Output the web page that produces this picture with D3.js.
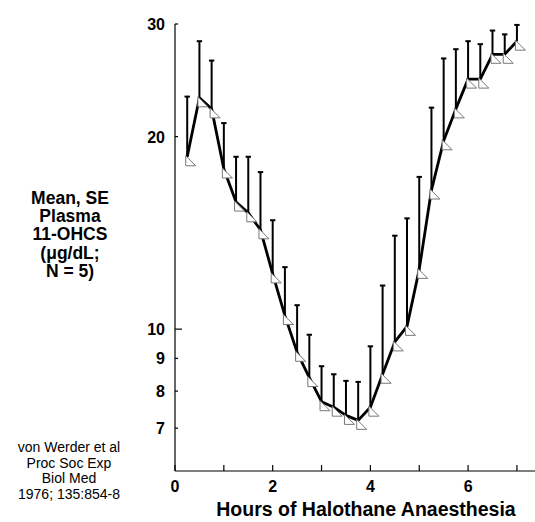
<!DOCTYPE html>
<meta charset="utf-8">
<html>
<body style="margin:0;background:#fff">
<div id="chart"></div>
<script src="https://d3js.org/d3.v7.min.js"></script>
<script>
// hours after start of halothane, mean plasma 11-OHCS and SE
var hours = [0.25, 0.5, 0.75, 1, 1.25, 1.5, 1.75, 2, 2.25, 2.5, 2.75, 3, 3.25, 3.5,
             3.75, 4, 4.25, 4.5, 4.75, 5, 5.25, 5.5, 5.75, 6, 6.25, 6.5, 6.75, 7];
var meanVals = [18.6, 23.0, 22.1, 17.8, 15.8, 15.2, 14.3, 12.2, 10.5, 9.2, 8.4, 7.7, 7.55, 7.33,
                7.2, 7.55, 8.5, 9.55, 10.1, 12.4, 16.5, 19.7, 22.1, 24.6, 24.6, 26.9, 26.9, 28.2];
var seVals = [4.5, 5.2, 4.2, 3.2, 2.8, 3.4, 3.3, 2.6, 2.0, 1.7, 1.4, 1.05, 0.95, 0.97,
              1.07, 1.85, 3.2, 4.45, 4.8, 4.9, 5.7, 6.8, 5.3, 3.6, 3.3, 2.4, 2.0, 1.7];
var xTicks = [0, 1, 2, 3, 4, 5, 6, 7];
var xLabels = [0, 2, 4, 6];
var yTicks = [7, 8, 9, 10, 20, 30];
var yTitle = ["Mean, SE", "Plasma", "11-OHCS", "(\u03bcg/dL;", "N = 5)"];
var citation = ["von Werder et al", "Proc Soc Exp", "Biol Med", "1976; 135:854-8"];

var W = 535, H = 522;
var svg = d3.select("#chart").append("svg")
    .attr("width", W).attr("height", H)
    .style("font-family", "Liberation Sans, Arial, sans-serif");

var x = d3.scaleLinear().domain([0, 7.37]).range([175, 535]);
var y = d3.scaleLog().domain([6, 30]).range([471, 24]);

var data = hours.map(function(h, i) { return {h: h, m: meanVals[i], se: seVals[i]}; });

// axes
svg.append("line").attr("x1", x(0)).attr("x2", 535).attr("y1", 471).attr("y2", 471)
  .attr("stroke", "#000").attr("stroke-width", 1.2);
svg.append("line").attr("x1", 175).attr("x2", 175).attr("y1", y(30)).attr("y2", 471)
  .attr("stroke", "#000").attr("stroke-width", 1.2);

svg.selectAll(".xt").data(xTicks).enter().append("line")
  .attr("x1", function(d) { return x(d); }).attr("x2", function(d) { return x(d); })
  .attr("y1", 471).attr("y2", 465).attr("stroke", "#000").attr("stroke-width", 1.2);
svg.selectAll(".xl").data(xLabels).enter().append("text")
  .attr("x", function(d) { return x(d); }).attr("y", 492)
  .attr("text-anchor", "middle").style("font-size", "16px").style("font-weight", "bold")
  .text(function(d) { return d; });

svg.selectAll(".yt").data(yTicks).enter().append("line")
  .attr("x1", 175).attr("x2", function(d) { return d == 10 ? 182 : 178; })
  .attr("y1", function(d) { return y(d); }).attr("y2", function(d) { return y(d); })
  .attr("stroke", "#000").attr("stroke-width", 1.2);
svg.selectAll(".yl").data(yTicks).enter().append("text")
  .attr("x", 165).attr("y", function(d) { return y(d) + 6; })
  .attr("text-anchor", "end").style("font-size", "16px").style("font-weight", "bold")
  .text(function(d) { return d; });

// titles
svg.append("text").attr("x", 366).attr("y", 516).attr("text-anchor", "middle")
  .style("font-size", "19.5px").style("font-weight", "bold")
  .text("Hours of Halothane Anaesthesia");

svg.selectAll(".yti").data(yTitle).enter().append("text")
  .attr("x", 70).attr("y", function(d, i) { return 204 + i * 18.2; })
  .attr("text-anchor", "middle").style("font-size", "17.5px").style("font-weight", "bold")
  .text(function(d) { return d; });

svg.selectAll(".cit").data(citation).enter().append("text")
  .attr("x", 69).attr("y", function(d, i) { return 452 + i * 15.5; })
  .attr("text-anchor", "middle").style("font-size", "14px")
  .text(function(d) { return d; });

// error bars (upper only)
var eb = svg.append("g");
eb.selectAll(".stem").data(data).enter().append("line")
  .attr("x1", function(d) { return x(d.h); }).attr("x2", function(d) { return x(d.h); })
  .attr("y1", function(d) { return y(d.m); }).attr("y2", function(d) { return y(d.m + d.se); })
  .attr("stroke", "#000").attr("stroke-width", 2);
eb.selectAll(".cap").data(data).enter().append("line")
  .attr("x1", function(d) { return x(d.h) - 2.7; }).attr("x2", function(d) { return x(d.h) + 2.7; })
  .attr("y1", function(d) { return y(d.m + d.se); }).attr("y2", function(d) { return y(d.m + d.se); })
  .attr("stroke", "#000").attr("stroke-width", 2);

// mean line
svg.append("path").datum(data)
  .attr("d", d3.line().x(function(d) { return x(d.h); }).y(function(d) { return y(d.m); }))
  .attr("fill", "none").attr("stroke", "#000").attr("stroke-width", 2.8)
  .attr("stroke-linejoin", "round");

// triangle markers
svg.append("g").selectAll("path").data(data).enter().append("path")
  .attr("d", function(d) {
    var px = x(d.h), py = y(d.m);
    return "M" + (px - 1.5) + "," + (py - 1) + "L" + (px - 1.5) + "," + (py + 9) + "L" + (px + 8.5) + "," + (py + 9) + "Z";
  })
  .attr("fill", "#fff").attr("stroke", "#777").attr("stroke-width", 1);
</script>
</body>
</html>
